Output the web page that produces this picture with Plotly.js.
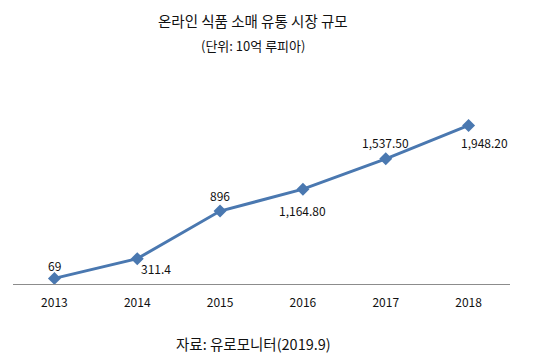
<!DOCTYPE html>
<html>
<head>
<meta charset="utf-8">
<script src="https://cdn.plot.ly/plotly-3.0.1.min.js"></script>
<style>html,body{margin:0;padding:0;background:#fff;}#chart{width:537px;height:360px;}</style>
</head>
<body>
<div id="chart"></div>
<script>
const years = ["2013", "2014", "2015", "2016", "2017", "2018"];
const values = [69, 311.4, 896, 1164.8, 1537.5, 1948.2];
const valueLabels = ["69", "311.4", "896", "1,164.80", "1,537.50", "1,948.20"];
const labelXShift = [0, 19, 0, 0, 0, 16];
const labelYShift = [13, -10, 16, -21, 16, -17];

const FONT = '"Noto Sans CJK KR", "Noto Sans", sans-serif';
const lineColor = '#4a78b0';

const annotations = years.map((y, i) => ({
  x: i, y: values[i], xref: 'x', yref: 'y',
  text: valueLabels[i], showarrow: false,
  xanchor: 'center', yanchor: 'middle',
  xshift: labelXShift[i], yshift: labelYShift[i],
  font: {family: FONT, size: 12, color: '#111'}
}));
annotations.push(
  {x: 0.5, y: 1, xref: 'paper', yref: 'paper', text: '온라인 식품 소매 유통 시장 규모', showarrow: false,
   xanchor: 'center', yanchor: 'middle', yshift: 68, xshift: -9, font: {family: FONT, size: 14.5, color: '#111'}},
  {x: 0.5, y: 1, xref: 'paper', yref: 'paper', text: '(단위: 10억 루피아)', showarrow: false,
   xanchor: 'center', yanchor: 'middle', yshift: 43, xshift: -9, font: {family: FONT, size: 13, color: '#111'}},
  {x: 0.5, y: 0, xref: 'paper', yref: 'paper', text: '자료: 유로모니터(2019.9)', showarrow: false,
   xanchor: 'center', yanchor: 'middle', yshift: -59, xshift: -8, font: {family: FONT, size: 14.5, color: '#111'}}
);

const trace = {
  x: years, y: values, type: 'scatter', mode: 'lines+markers',
  line: {color: lineColor, width: 3},
  marker: {symbol: 'diamond', size: 10, color: lineColor},
  hoverinfo: 'none'
};

const layout = {
  width: 537, height: 360,
  margin: {l: 13, r: 27, t: 88, b: 76},
  paper_bgcolor: '#fff', plot_bgcolor: '#fff',
  showlegend: false,
  xaxis: {
    type: 'category', range: [-0.5, 5.5], showgrid: false, zeroline: false,
    showline: true, linecolor: '#8c8c8c', linewidth: 1, ticks: '',
    tickfont: {family: FONT, size: 12, color: '#111'}, ticklabelstandoff: 8
  },
  yaxis: {
    range: [0, 2408], showgrid: false, zeroline: false, showline: false,
    showticklabels: false, ticks: ''
  },
  annotations: annotations
};

Plotly.newPlot('chart', [trace], layout, {displayModeBar: false, staticPlot: true});
</script>
</body>
</html>
